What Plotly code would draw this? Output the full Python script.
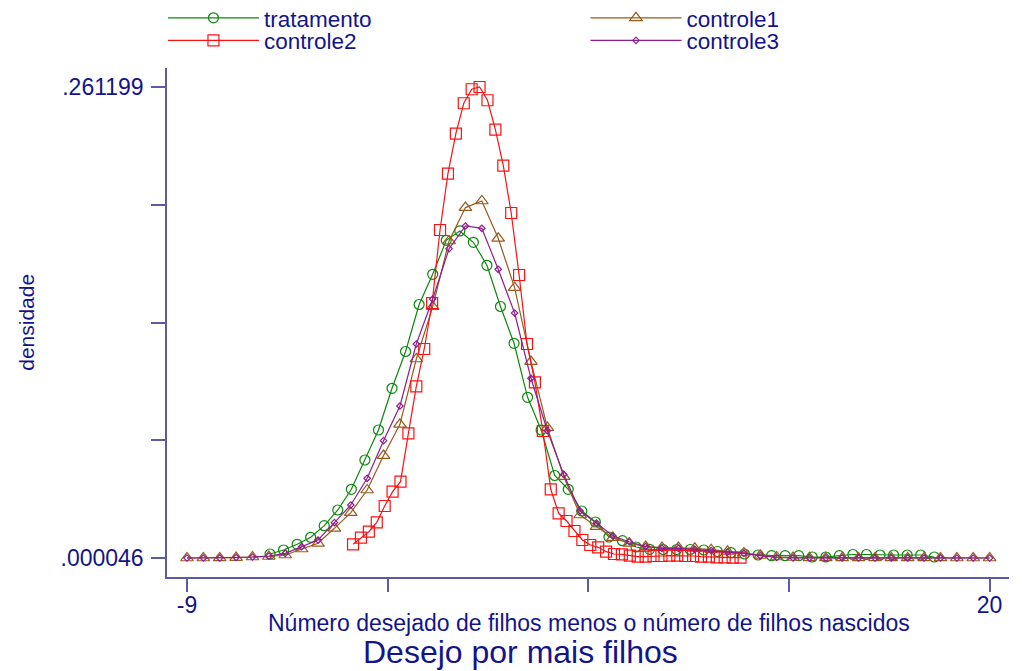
import numpy as np
import plotly.graph_objects as go

# Evaluation grids (Stata kdensity, n=50 points between each group's min and max)
n_points = 50
x_trat = np.linspace(-6, 18, n_points)
x_c1 = np.linspace(-9, 20, n_points)
x_c2 = np.linspace(-3, 11, n_points)
x_c3 = np.linspace(-9, 20, n_points)

tratamento = [
    0.00226, 0.00448, 0.00764, 0.01152, 0.01796, 0.02666, 0.03814, 0.05439, 0.07102, 0.09415,
    0.11455, 0.14061, 0.15736, 0.17621, 0.18137, 0.17510, 0.16235, 0.13950, 0.11910, 0.08915,
    0.07102, 0.04579, 0.03814, 0.02611, 0.02001, 0.01169, 0.00964, 0.00615, 0.00487, 0.00476,
    0.00476, 0.00476, 0.00448, 0.00365, 0.00298, 0.00226, 0.00171, 0.00132, 0.00132, 0.00132,
    0.00060, 0.00060, 0.00132, 0.00199, 0.00199, 0.00171, 0.00171, 0.00171, 0.00171, 0.00060,
]

controle1 = [
    0.00005, 0.00005, 0.00006, 0.00027, 0.00060, 0.00088, 0.00171, 0.00504, 0.00820, 0.01651,
    0.02522, 0.03775, 0.05683, 0.07418, 0.11039, 0.13945, 0.17582, 0.19434, 0.19800, 0.17732,
    0.14998, 0.10895, 0.07235, 0.04518, 0.02389, 0.01746, 0.01136, 0.00820, 0.00637, 0.00581,
    0.00581, 0.00542, 0.00470, 0.00376, 0.00282, 0.00154, 0.00060, 0.00032, 0.00015, 0.00010,
    0.00009, 0.00008, 0.00008, 0.00007, 0.00007, 0.00006, 0.00006, 0.00005, 0.00005, 0.00005,
]

controle2 = [
    0.00764, 0.01130, 0.01463, 0.01984, 0.02888, 0.03681, 0.04235, 0.06919, 0.09525, 0.11594,
    0.14144, 0.18192, 0.21314, 0.23532, 0.25218, 0.25994, 0.261199, 0.25384, 0.23754, 0.21758,
    0.19135, 0.15697, 0.11871, 0.09747, 0.07047, 0.03814, 0.02483, 0.02056, 0.01502, 0.01003,
    0.00725, 0.00598, 0.00354, 0.00226, 0.00210, 0.00132, 0.00077, 0.00077, 0.00115, 0.00115,
    0.00132, 0.00132, 0.00115, 0.00115, 0.00077, 0.00077, 0.00043, 0.00043, 0.00021, 0.00021,
]

controle3 = [
    0.000046, 0.00005, 0.00006, 0.00032, 0.00060, 0.00115, 0.00265, 0.00631, 0.01003, 0.01962,
    0.02943, 0.04424, 0.06509, 0.08433, 0.11871, 0.14366, 0.17155, 0.18414, 0.18286, 0.16013,
    0.13590, 0.09969, 0.07063, 0.04635, 0.02611, 0.01945, 0.01224, 0.00908, 0.00642, 0.00542,
    0.00542, 0.00487, 0.00420, 0.00337, 0.00265, 0.00132, 0.00032, 0.00015, 0.00009, 0.00008,
    0.00008, 0.00007, 0.00007, 0.00007, 0.00006, 0.00006, 0.00006, 0.00005, 0.00005, 0.00005,
]

y_min, y_max = 0.000046, 0.261199
x_min, x_max = -9, 20
y_ticks = list(np.linspace(y_min, y_max, 5))
y_ticktext = [".000046", "", "", "", ".261199"]
x_ticks = list(np.linspace(x_min, x_max, 5))
x_ticktext = ["-9", "", "", "", "20"]

TEXT = "#14148a"
AXIS = "#5b5ba8"
FONT = "Liberation Sans, Arial, sans-serif"

series = [
    ("tratamento", x_trat, tratamento, "#0a8a0a", "circle-open", 10, "legend"),
    ("controle1", x_c1, controle1, "#9a5a1c", "triangle-up-open", 11, "legend2"),
    ("controle2", x_c2, controle2, "#ff1010", "square-open", 11, "legend3"),
    ("controle3", x_c3, controle3, "#8e1e8e", "diamond-open", 5, "legend4"),
]

fig = go.Figure()
for name, xs, ys, color, sym, size, leg in series:
    fig.add_trace(go.Scatter(
        x=xs, y=ys, name=name, mode="lines+markers",
        line=dict(color=color, width=1.2),
        marker=dict(symbol=sym, size=size, color=color, line=dict(width=1.2, color=color)),
        legend=leg,
    ))

legend_common = dict(
    orientation="h", xanchor="left", yanchor="top", itemwidth=91,
    font=dict(family=FONT, size=22.5, color=TEXT),
    bgcolor="rgba(0,0,0,0)", borderwidth=0,
)

col1_x, col2_x = -0.0048, 0.497
row1_y, row2_y = 1.1401, 1.0957

fig.update_layout(
    width=1029, height=671,
    margin=dict(l=167, r=20, t=68, b=94, autoexpand=False),
    paper_bgcolor="white", plot_bgcolor="white",
    font=dict(family=FONT, size=22, color=TEXT),
    showlegend=True,
    legend=dict(x=col1_x, y=row1_y, **legend_common),
    legend2=dict(x=col2_x, y=row1_y, **legend_common),
    legend3=dict(x=col1_x, y=row2_y, **legend_common),
    legend4=dict(x=col2_x, y=row2_y, **legend_common),
    xaxis=dict(
        range=[-9.722, 20.70], tickvals=x_ticks, ticktext=x_ticktext,
        showgrid=False, zeroline=False, showline=True, linecolor=AXIS, linewidth=1.5,
        ticks="outside", ticklen=13, tickcolor=AXIS, tickwidth=1.5,
        ticklabelstandoff=-6,
        tickfont=dict(family=FONT, size=23, color=TEXT),
    ),
    yaxis=dict(
        range=[-0.010489, 0.271734], tickvals=y_ticks, ticktext=y_ticktext,
        showgrid=False, zeroline=False, showline=True, linecolor=AXIS, linewidth=1.5,
        ticks="outside", ticklen=14, tickcolor=AXIS, tickwidth=1.5,
        ticklabelstandoff=3,
        tickfont=dict(family=FONT, size=23, color=TEXT),
    ),
    annotations=[
        dict(text="Número desejado de filhos menos o número de filhos nascidos",
             xref="paper", yref="paper", x=0.5006, y=-0.0904,
             xanchor="center", yanchor="middle", showarrow=False,
             font=dict(family=FONT, size=23, color=TEXT)),
        dict(text="Desejo por mais filhos",
             xref="paper", yref="paper", x=0.4203, y=-0.1473,
             xanchor="center", yanchor="middle", showarrow=False,
             font=dict(family=FONT, size=32, color=TEXT)),
        dict(text="densidade",
             xref="paper", yref="paper", x=-0.1665, y=0.501, textangle=-90,
             xanchor="center", yanchor="middle", showarrow=False,
             font=dict(family=FONT, size=21, color=TEXT)),
    ],
)

fig.write_html("out.html", config={"displayModeBar": False},
               post_script="document.body.style.margin='0px';")
